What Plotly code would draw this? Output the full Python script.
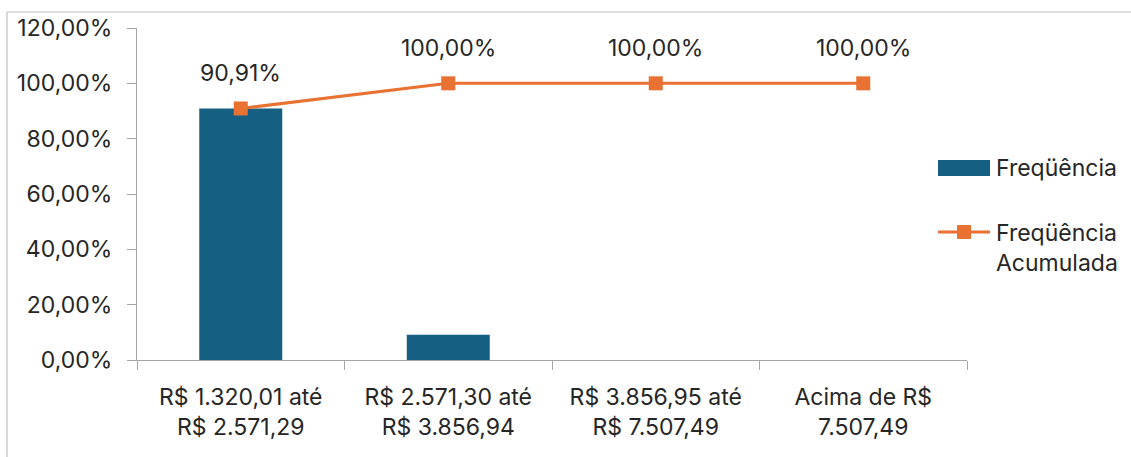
import plotly.graph_objects as go

categories = ["R$ 1.320,01 até<br>R$ 2.571,29",
              "R$ 2.571,30 até<br>R$ 3.856,94",
              "R$ 3.856,95 até<br>R$ 7.507,49",
              "Acima de R$<br>7.507,49"]
frequencia = [0.9091, 0.0909, 0.0, 0.0]
freq_acumulada = [0.9091, 1.0, 1.0, 1.0]
series_names = ["Freqüência", "Freqüência<br>Acumulada"]

FONT = "Inter"
FS = 23
TXT = "#262626"
BLUE = "#156082"
ORANGE = "#E97132"
AXIS = "#A6A6A6"

fig = go.Figure()
fig.add_trace(go.Bar(
    x=categories, y=frequencia, name=series_names[0],
    marker=dict(color=BLUE, line=dict(width=0)),
    width=0.4, showlegend=False))
fig.add_trace(go.Scatter(
    x=categories, y=freq_acumulada, name=series_names[1],
    mode="lines+markers",
    line=dict(color=ORANGE, width=3),
    marker=dict(symbol="square", size=14, color=ORANGE),
    showlegend=False))

for c, v in zip(categories, freq_acumulada):
    fig.add_annotation(x=c, y=v, text=f"{v*100:.2f}%".replace(".", ","),
                       showarrow=False, yshift=35,
                       font=dict(family=FONT, size=FS, color=TXT))

l, r, t, b = 137, 164, 28, 97
W, H = 1131, 457
pw, ph = W - l - r, H - t - b
px = lambda v: (v - l) / pw
py = lambda v: (H - b - v) / ph

# outer chart border (top and left visible)
fig.add_shape(type="line", xref="paper", yref="paper",
              x0=px(7), x1=px(W + 5), y0=py(12), y1=py(12),
              line=dict(color="#BFBFBF", width=1.2))
fig.add_shape(type="line", xref="paper", yref="paper",
              x0=px(7), x1=px(7), y0=py(12), y1=py(H + 5),
              line=dict(color="#BFBFBF", width=1.2))

# custom legend (Excel style)
fig.add_shape(type="rect", xref="paper", yref="paper",
              x0=px(938), x1=px(990), y0=py(176), y1=py(160),
              fillcolor=BLUE, line=dict(width=0))
fig.add_annotation(xref="paper", yref="paper", x=px(994), y=py(168),
                   xanchor="left", yanchor="middle", showarrow=False,
                   text=series_names[0], align="left",
                   font=dict(family=FONT, size=FS, color=TXT))
fig.add_shape(type="line", xref="paper", yref="paper",
              x0=px(938), x1=px(990), y0=py(232), y1=py(232),
              line=dict(color=ORANGE, width=3))
fig.add_shape(type="rect", xref="paper", yref="paper",
              x0=px(957), x1=px(971), y0=py(239), y1=py(225),
              fillcolor=ORANGE, line=dict(color=ORANGE, width=0))
fig.add_annotation(xref="paper", yref="paper", x=px(994), y=py(217),
                   xanchor="left", yanchor="top", showarrow=False,
                   text=series_names[1], align="left",
                   font=dict(family=FONT, size=FS, color=TXT))

fig.update_layout(
    width=W, height=H,
    margin=dict(l=l, r=r, t=t, b=b),
    paper_bgcolor="white", plot_bgcolor="white",
    separators=",.",
    font=dict(family=FONT, size=FS, color=TXT),
    showlegend=False,
    bargap=0.6,
)
fig.update_xaxes(showline=True, linecolor=AXIS, linewidth=1.2,
                 ticks="outside", tickson="boundaries", ticklen=9,
                 tickcolor=AXIS, showgrid=False, ticklabelstandoff=16,
                 tickfont=dict(family=FONT, size=FS, color=TXT))
fig.update_yaxes(range=[0, 1.2], dtick=0.2, tickformat=".2%",
                 showline=True, linecolor=AXIS, linewidth=1.2,
                 ticks="outside", ticklen=9, tickcolor=AXIS,
                 showgrid=False, zeroline=False, ticklabelstandoff=10,
                 tickfont=dict(family=FONT, size=FS, color=TXT))

fig.write_html("out.html", config={"displayModeBar": False},
               post_script="document.body.style.margin='0px';")
